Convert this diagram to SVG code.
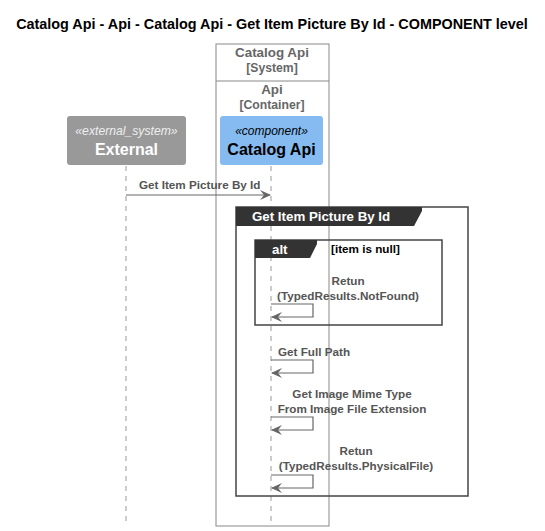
<svg xmlns="http://www.w3.org/2000/svg" width="545" height="531" viewBox="0 0 545 531">
<defs>
<style>
text{font-family:"Liberation Sans",Arial,sans-serif}
.title{font-size:14.4px;font-weight:bold;fill:#000}
.hdr{font-size:13.4px;font-weight:bold;fill:#666}
.hdr2{font-size:12.2px;font-weight:bold;fill:#666}
.msg{font-size:11.7px;font-weight:bold;fill:#555}
.life{stroke:#999;stroke-width:1;stroke-dasharray:5,5;fill:none}
.line{stroke:#666;stroke-width:1.2;fill:none}
.head{fill:#666}
.frame{fill:none;stroke:#444;stroke-width:1.5}
.tab{fill:#333}
.tabtxt{font-size:13.3px;font-weight:bold;fill:#fff}
</style>
</defs>
<rect width="545" height="531" fill="#fff"/>
<text class="title" x="272" y="29" text-anchor="middle">Catalog Api - Api - Catalog Api - Get Item Picture By Id - COMPONENT level</text>

<g id="system-boundary">
<rect x="216" y="44" width="113" height="482" fill="none" stroke="#888" stroke-width="1"/>
<line x1="216" y1="81" x2="329" y2="81" stroke="#888" stroke-width="1"/>
<text class="hdr" x="272" y="57" text-anchor="middle">Catalog Api</text>
<text class="hdr2" x="272" y="72" text-anchor="middle">[System]</text>
<text class="hdr" x="272" y="94" text-anchor="middle">Api</text>
<text class="hdr2" x="272" y="109" text-anchor="middle">[Container]</text>
</g>

<g id="lifelines">
<line class="life" x1="126" y1="166" x2="126" y2="522"/>
<line class="life" x1="271" y1="166" x2="271" y2="522"/>
</g>

<g id="external">
<rect x="67" y="116" width="119" height="49" rx="3" fill="#999"/>
<text x="126.5" y="135" text-anchor="middle" font-size="12.2" font-style="italic" fill="#eee">«external_system»</text>
<text x="126.5" y="155" text-anchor="middle" font-size="16" font-weight="bold" fill="#fff">External</text>
</g>

<g id="catalog-api">
<rect x="220" y="116" width="103" height="49" rx="3" fill="#85BBF0"/>
<text x="271.5" y="135" text-anchor="middle" font-size="12" font-style="italic" fill="#000">«component»</text>
<text x="271.5" y="155" text-anchor="middle" font-size="16" font-weight="bold" fill="#000">Catalog Api</text>
</g>

<g id="group-frame">
<rect class="frame" x="236" y="207" width="232" height="289"/>
<polygon class="tab" points="236,207 422,207 422,211 414,226 236,226"/>
<text class="tabtxt" x="252" y="221">Get Item Picture By Id</text>
</g>

<g id="alt-frame">
<rect class="frame" x="255" y="240" width="187" height="85"/>
<polygon class="tab" points="255,240 317,240 317,244 310,258 255,258"/>
<text class="tabtxt" x="272" y="254">alt</text>
<text x="331" y="253" font-size="11.7" font-weight="bold" fill="#000">[item is null]</text>
</g>

<g id="connectors">
<line class="line" x1="126" y1="195" x2="270" y2="195"/>
<polygon class="head" points="271,195 260,190 264,195 260,200"/>
<text class="msg" x="139" y="189">Get Item Picture By Id</text>

<polyline class="line" points="271,304 313,304 313,317 272,317"/>
<polygon class="head" points="271,317 282,312 278,317 282,322"/>
<text class="msg" x="348" y="285" text-anchor="middle">Retun</text>
<text class="msg" x="348" y="300" text-anchor="middle">(TypedResults.NotFound)</text>

<polyline class="line" points="271,360 313,360 313,373 272,373"/>
<polygon class="head" points="271,373 282,368 278,373 282,378"/>
<text class="msg" x="278" y="356">Get Full Path</text>

<polyline class="line" points="271,417 313,417 313,430 272,430"/>
<polygon class="head" points="271,430 282,425 278,430 282,435"/>
<text class="msg" x="352" y="398" text-anchor="middle">Get Image Mime Type</text>
<text class="msg" x="352" y="413" text-anchor="middle">From Image File Extension</text>

<polyline class="line" points="271,475 313,475 313,488 272,488"/>
<polygon class="head" points="271,488 282,483 278,488 282,493"/>
<text class="msg" x="356" y="455" text-anchor="middle">Retun</text>
<text class="msg" x="356" y="470" text-anchor="middle">(TypedResults.PhysicalFile)</text>
</g>
</svg>
